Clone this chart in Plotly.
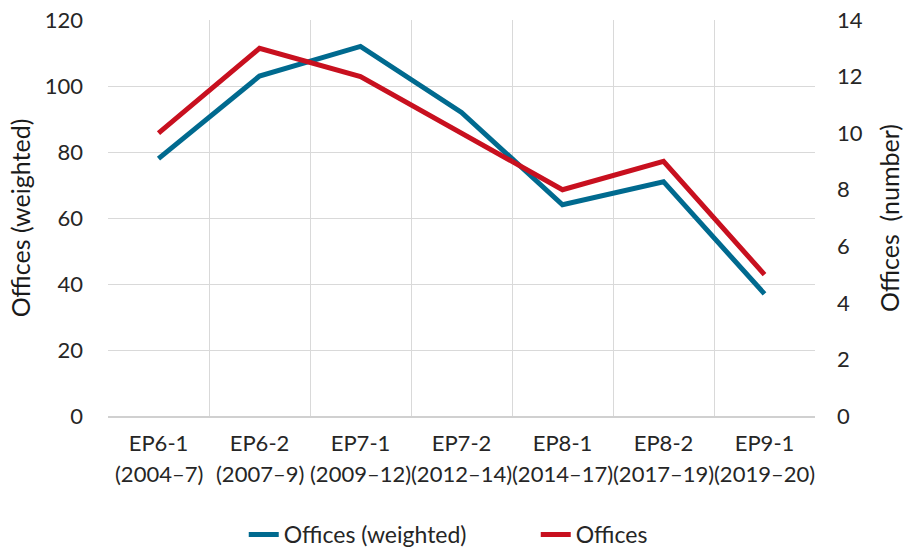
import plotly.graph_objects as go

periods = ["EP6-1", "EP6-2", "EP7-1", "EP7-2", "EP8-1", "EP8-2", "EP9-1"]
years = ["(2004–7)", "(2007–9)", "(2009–12)", "(2012–14)", "(2014–17)", "(2017–19)", "(2019–20)"]
weighted = [78, 103, 112, 92, 64, 71, 37]
offices = [10, 13, 12, 10, 8, 9, 5]

FONT = "Lato"
TXT = "#262626"
FS = 22
fig = go.Figure()
fig.add_trace(go.Scatter(x=periods, y=weighted, name="Offices (weighted)", mode="lines",
                         line=dict(color="#006a8f", width=5)))
fig.add_trace(go.Scatter(x=periods, y=offices, name="Offices", mode="lines", yaxis="y2",
                         line=dict(color="#c8101f", width=5)))

for p, yr in zip(periods, years):
    fig.add_annotation(x=p, xref="x", y=0, yref="paper", yanchor="middle", yshift=-57,
                       text=yr, showarrow=False, font=dict(family=FONT, size=FS, color=TXT))

fig.update_layout(
    width=904, height=548, margin=dict(l=108, r=89, t=20, b=132, autoexpand=False),
    paper_bgcolor="white", plot_bgcolor="white",
    font=dict(family=FONT, size=FS, color=TXT),
    showlegend=True,
    legend=dict(orientation="h", x=0.192, xanchor="left", y=-0.245, yanchor="top",
                font=dict(family=FONT, size=23, color=TXT), entrywidth=247, entrywidthmode="pixels",
                tracegroupgap=0),
    xaxis=dict(type="category", tickson="boundaries", showgrid=True, gridcolor="#d9d9d9", gridwidth=1,
               showline=True, linecolor="#d0d0d0", linewidth=2, ticks="", ticklabelstandoff=7,
               mirror=False, range=[-0.5, 6.5], automargin=False),
    yaxis=dict(range=[0, 120], dtick=20, showgrid=True, gridcolor="#d9d9d9", gridwidth=1,
               zeroline=False, showline=False, ticks="", ticklabelstandoff=24, automargin=False,
               title=dict(text="Offices (weighted)", standoff=6, font=dict(size=25, color="#1a1a1a"))),
    yaxis2=dict(range=[0, 14], dtick=2, overlaying="y", side="right", showgrid=False,
                zeroline=False, showline=False, ticks="", ticklabelstandoff=21, automargin=False,
                title=dict(text="Offices  (number)", standoff=19, font=dict(size=25, color="#1a1a1a"))),
)
# remove the default 8px page margin so the figure fills the window exactly
fig.write_html("out.html", config={"displayModeBar": False},
               post_script="document.body.style.margin='0';")
